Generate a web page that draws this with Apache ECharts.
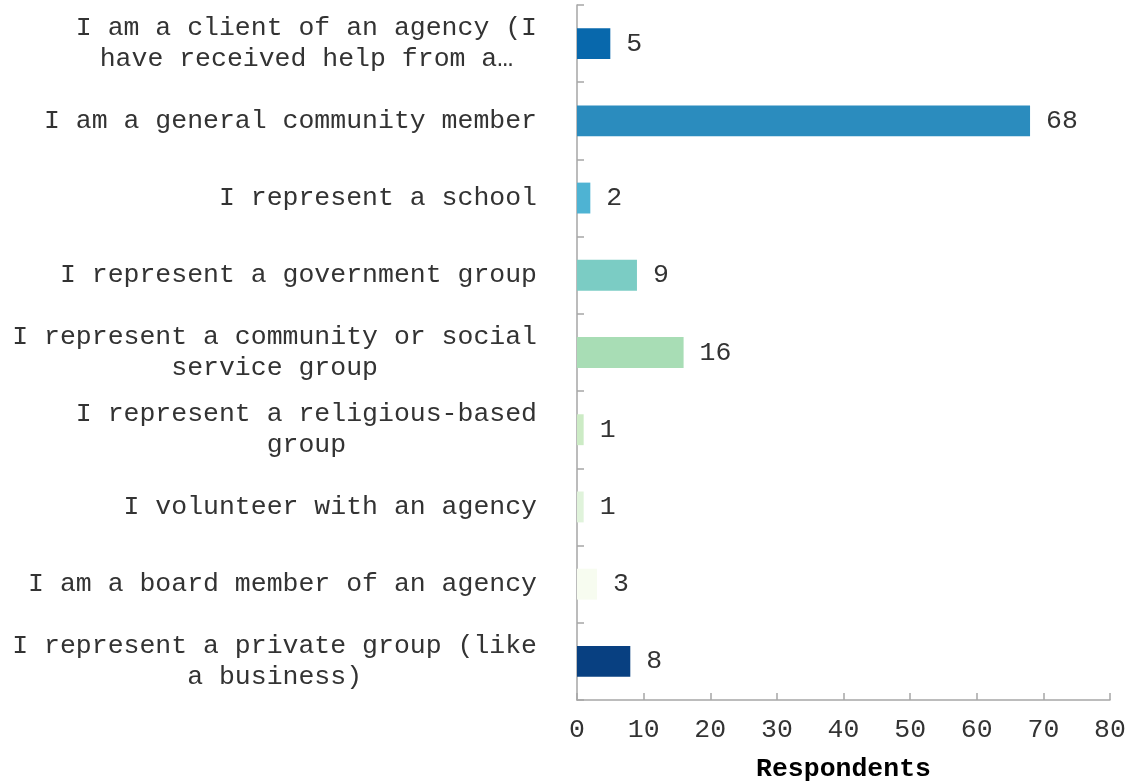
<!DOCTYPE html>
<html>
<head>
<meta charset="utf-8">
<title>Respondents by role</title>
<script src="https://cdn.jsdelivr.net/npm/echarts@6/dist/echarts.min.js"></script>
<style>
  html, body { margin: 0; padding: 0; background: #ffffff; }
  #chart { width: 1129px; height: 782px; }
</style>
</head>
<body>
<div id="chart"></div>
<script>
// Respondent roles (top to bottom) and their counts
const categories = [
  'I am a client of an agency (I\nhave received help from a\u2026',
  'I am a general community member',
  'I represent a school',
  'I represent a government group',
  'I represent a community or social\nservice group',
  'I represent a religious-based\ngroup',
  'I volunteer with an agency',
  'I am a board member of an agency',
  'I represent a private group (like\na business)'
];
const respondents = [5, 68, 2, 9, 16, 1, 1, 3, 8];
const barColors = ['#0868ac', '#2b8cbe', '#4eb3d3', '#7bccc4', '#a8ddb5', '#ccebc5', '#e0f3db', '#f7fcf0', '#084081'];
const xTicks = { min: 0, max: 80, interval: 10 };
const axisTitle = 'Respondents';

const FONT = '"Liberation Mono", "Courier New", "DejaVu Sans Mono", monospace';
const SIZE = 26.5;
const TEXT = '#333333';
const AXIS = '#a6a6a6';

const chart = echarts.init(document.getElementById('chart'), null, { renderer: 'canvas' });

chart.setOption({
  animation: false,
  backgroundColor: '#ffffff',
  grid: { left: 577, right: 19, top: 5, bottom: 82, containLabel: false, outerBoundsMode: 'none' },
  xAxis: {
    type: 'value',
    min: xTicks.min,
    max: xTicks.max,
    interval: xTicks.interval,
    name: axisTitle,
    nameLocation: 'middle',
    nameGap: 56,
    nameTextStyle: { fontFamily: FONT, fontSize: SIZE, fontWeight: 'bold', color: '#000000' },
    axisLine: { show: true, lineStyle: { color: AXIS, width: 1.5 } },
    axisTick: { show: true, inside: true, length: 7, lineStyle: { color: AXIS, width: 1.5 } },
    axisLabel: { fontFamily: FONT, fontSize: SIZE, color: TEXT, margin: 16 },
    splitLine: { show: false }
  },
  yAxis: {
    type: 'category',
    inverse: true,
    data: categories,
    axisLine: { show: true, lineStyle: { color: AXIS, width: 1.5 } },
    axisTick: { show: true, inside: true, length: 7, lineStyle: { color: AXIS, width: 1.5 } },
    axisLabel: {
      margin: 40,
      interval: 0,
      formatter: (v) => v.split('\n').map((line) => '{c|' + line + '}').join('\n'),
      rich: {
        c: { align: 'center', fontFamily: FONT, fontSize: SIZE, lineHeight: 31, color: TEXT }
      }
    },
    splitLine: { show: false }
  },
  series: [{
    type: 'bar',
    data: respondents.map((v, i) => ({ value: v, itemStyle: { color: barColors[i] } })),
    barWidth: '40%',
    label: {
      show: true,
      position: 'right',
      distance: 16,
      fontFamily: FONT,
      fontSize: SIZE,
      color: TEXT
    }
  }]
});
</script>
</body>
</html>
